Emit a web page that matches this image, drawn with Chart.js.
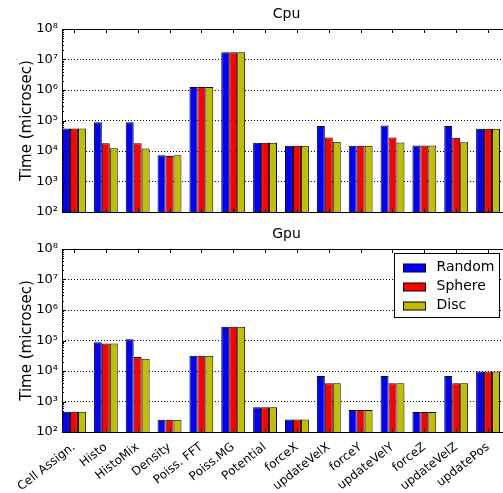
<!DOCTYPE html>
<html>
<head>
<meta charset="utf-8">
<script src="https://cdn.jsdelivr.net/npm/chart.js@4.4.0/dist/chart.umd.min.js"></script>
<style>
  html, body { margin: 0; padding: 0; background: #fff; overflow: hidden; }
  #wrap { position: relative; width: 503px; height: 493px; overflow: hidden; }
  canvas { position: absolute; left: 0; }
</style>
</head>
<body>
<div id="wrap">
  <canvas id="cpuChart" width="520" height="225" style="top:0"></canvas>
  <canvas id="gpuChart" width="520" height="273" style="top:220px"></canvas>
</div>
<script>
const kernels = ['Cell Assign.', 'Histo', 'HistoMix', 'Density', 'Poiss. FFT', 'Poiss.MG', 'Potential',
  'forceX', 'updateVelX', 'forceY', 'updateVelY', 'forceZ', 'updateVelZ', 'updatePos'];
const decades = [1e2, 1e3, 1e4, 1e5, 1e6, 1e7, 1e8];
const decadeLabels = ['10²', '10³', '10⁴', '10⁵', '10⁶', '10⁷', '10⁸'];
const seriesNames = ['Random', 'Sphere', 'Disc'];
const seriesColors = ['#0000ff', '#ff0000', '#bfbf00'];

// Cpu timings (microsec)
const cpuRandom = [55000, 87000, 87000, 7200, 1260000, 17300000, 18700, 14900, 66000, 14900, 68000, 15200, 66000, 54000];
const cpuSphere = [55000, 18000, 18000, 6900, 1260000, 17300000, 18700, 14900, 27500, 14900, 27500, 15200, 27000, 54000];
const cpuDisc   = [55000, 12300, 12000, 7200, 1260000, 17300000, 18700, 14900, 20000, 14900, 19000, 15200, 19500, 54000];
// Gpu timings (microsec)
const gpuRandom = [460, 87000, 109000, 253, 31700, 280000, 644, 258, 6800, 525, 6800, 452, 6800, 9600];
const gpuSphere = [460, 80000, 28800, 253, 31700, 280000, 644, 258, 4000, 525, 4000, 452, 4000, 9600];
const gpuDisc   = [460, 80000, 25000, 253, 31700, 280000, 644, 258, 4000, 525, 4000, 452, 4000, 9600];

Chart.defaults.font.family = 'DejaVu Sans';
Chart.defaults.color = '#000';

// frame, inward ticks and the panel title
const axFrame = {
  id: 'axFrame',
  afterDraw(chart, args, opts) {
    const { ctx, chartArea: a, scales } = chart;
    ctx.save();
    ctx.strokeStyle = '#000';
    ctx.lineWidth = 1;
    ctx.beginPath();
    kernels.forEach((k, i) => {
      const x = Math.round(scales.x.getPixelForValue(i)) + 0.5;
      ctx.moveTo(x, a.top); ctx.lineTo(x, a.top + 4);
      ctx.moveTo(x, a.bottom); ctx.lineTo(x, a.bottom - 4);
    });
    decades.forEach((d, j) => {
      const y = Math.round(scales.y.getPixelForValue(d)) + 0.5;
      ctx.moveTo(a.left, y); ctx.lineTo(a.left + 4, y);
      if (j < decades.length - 1) {
        for (let m = 2; m < 10; m++) {
          const ym = Math.round(scales.y.getPixelForValue(d * m)) + 0.5;
          ctx.moveTo(a.left, ym); ctx.lineTo(a.left + 2, ym);
        }
      }
    });
    ctx.stroke();
    ctx.strokeRect(Math.round(a.left) + 0.5, Math.round(a.top) + 0.5,
      Math.round(a.right - a.left), Math.round(a.bottom - a.top));
    ctx.font = '14px "DejaVu Sans"';
    ctx.fillStyle = '#000';
    ctx.textAlign = 'center';
    ctx.textBaseline = 'alphabetic';
    ctx.fillText(opts.text, (a.left + a.right) / 2, a.top - 11);
    ctx.restore();
  }
};

// boxed legend, upper right
const boxLegend = {
  id: 'boxLegend',
  afterDraw(chart, args, opts) {
    if (!opts.display) return;
    const { ctx, chartArea: a } = chart;
    const left = Math.round(a.right - 117) + 0.5;
    const top = Math.round(a.top + 4) + 0.5;
    ctx.save();
    ctx.fillStyle = '#fff';
    ctx.fillRect(left, top, 105, 64);
    ctx.strokeStyle = '#000';
    ctx.lineWidth = 1;
    ctx.strokeRect(left, top, 105, 64);
    ctx.font = '14px "DejaVu Sans"';
    ctx.textBaseline = 'middle';
    chart.data.datasets.forEach((ds, i) => {
      const cy = top + 14 + i * 19;
      ctx.fillStyle = ds.backgroundColor;
      ctx.fillRect(left + 9, Math.round(cy - 4), 22, 8);
      ctx.strokeRect(left + 9, Math.round(cy - 4), 22, 8);
      ctx.fillStyle = '#000';
      ctx.fillText(ds.label, left + 42, cy);
    });
    ctx.restore();
  }
};

function makeChart(id, title, values, showLabels, xHeight) {
  return new Chart(document.getElementById(id), {
    type: 'bar',
    data: {
      datasets: values.map((vals, s) => ({
        label: seriesNames[s],
        data: vals.map((v, i) => ({ x: i, y: v })),
        backgroundColor: seriesColors[s],
        borderColor: '#000',
        borderWidth: 1,
        categoryPercentage: 0.75,
        barPercentage: 1.0
      }))
    },
    options: {
      responsive: false,
      animation: false,
      layout: { padding: { top: 29, right: 9, left: 0, bottom: 0 } },
      plugins: {
        legend: { display: false },
        tooltip: { enabled: false },
        axFrame: { text: title },
        boxLegend: { display: showLabels }
      },
      scales: {
        x: {
          type: 'linear',
          offset: false,
          min: -0.375,
          max: 13.72,
          afterBuildTicks: s => { s.ticks = kernels.map((k, i) => ({ value: i })); },
          afterFit: s => { s.height = xHeight; },
          grid: { display: false },
          border: { display: false },
          ticks: {
            display: showLabels,
            autoSkip: false,
            minRotation: 38,
            maxRotation: 38,
            padding: 0,
            font: { size: 12 },
            callback: v => kernels[v]
          }
        },
        y: {
          type: 'logarithmic',
          min: 100,
          max: 1e8,
          z: 1,
          afterBuildTicks: s => { s.ticks = decades.map(v => ({ value: v })); },
          afterFit: s => { s.width = 62; },
          grid: { color: '#000', lineWidth: 1, drawTicks: false },
          border: { display: false, dash: [1, 2] },
          ticks: {
            padding: 4,
            font: { size: 13 },
            callback: v => decadeLabels[decades.indexOf(v)]
          },
          title: {
            display: true,
            text: 'Time (microsec)',
            font: { size: 15 },
            padding: { top: 18, bottom: 0 }
          }
        }
      }
    },
    plugins: [axFrame, boxLegend]
  });
}

makeChart('cpuChart', 'Cpu', [cpuRandom, cpuSphere, cpuDisc], false, 13);
makeChart('gpuChart', 'Gpu', [gpuRandom, gpuSphere, gpuDisc], true, 61);
</script>
</body>
</html>
